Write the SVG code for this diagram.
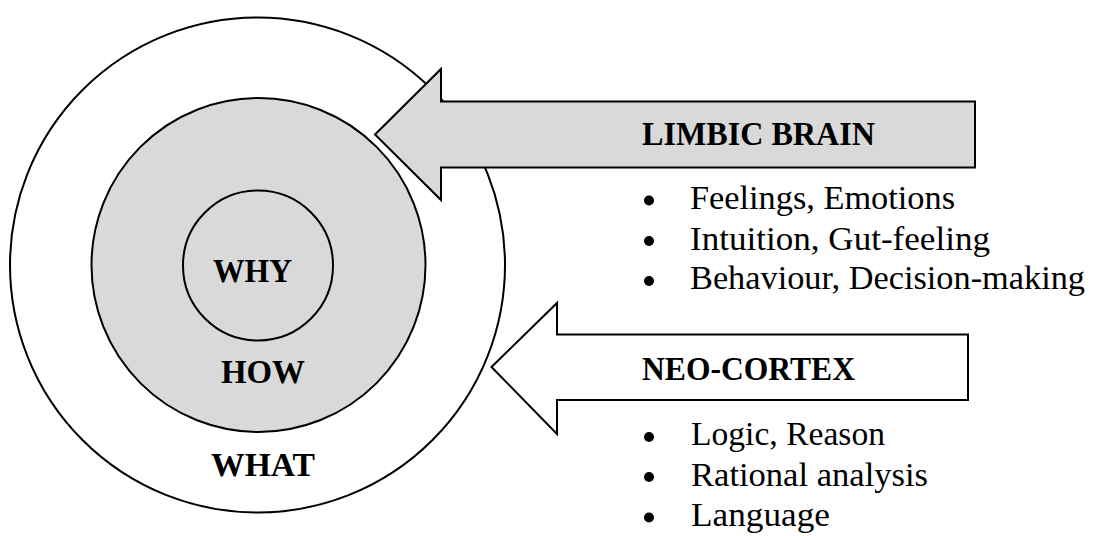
<svg xmlns="http://www.w3.org/2000/svg" width="1097" height="536" viewBox="0 0 1097 536">
  <style>
    .ring { stroke: #000; stroke-width: 2; }
    .white { fill: #ffffff; }
    .grey { fill: #d9d9d9; }
    .arrow { stroke: #000; stroke-width: 2; stroke-linejoin: miter; }
    .title { font-family: "Liberation Serif", "Times New Roman", serif; font-weight: bold; font-size: 34px; fill: #000; }
    .item { font-family: "Liberation Serif", "Times New Roman", serif; font-size: 33px; fill: #000; }
    .dot { fill: #000; }
  </style>
  <rect x="0" y="0" width="1097" height="536" fill="#ffffff"/>

  <!-- Golden circle: WHAT (outer), HOW (middle), WHY (core) -->
  <g id="what">
    <circle class="ring white" cx="257.5" cy="265" r="247.5"/>
    <text class="title" x="211" y="476" textLength="104" lengthAdjust="spacingAndGlyphs">WHAT</text>
  </g>
  <g id="how">
    <circle class="ring grey" cx="258.5" cy="265" r="167"/>
    <text class="title" x="221" y="383" textLength="84" lengthAdjust="spacingAndGlyphs">HOW</text>
  </g>
  <g id="why">
    <circle class="ring grey" cx="258" cy="265.5" r="75"/>
    <text class="title" x="213" y="282" textLength="79" lengthAdjust="spacingAndGlyphs">WHY</text>
  </g>

  <!-- Block arrows pointing into the circle -->
  <g id="connectors">
    <polygon id="arrow-limbic" class="arrow grey" points="375,134.5 441,69 441,101.5 975,101.5 975,167.5 441,167.5 441,200"/>
    <polygon id="arrow-neocortex" class="arrow white" points="491.5,367 557,303 557,334.5 968,334.5 968,400 557,400 557,434"/>
  </g>

  <g id="limbic">
    <text class="title" x="642" y="145" textLength="233" lengthAdjust="spacingAndGlyphs">LIMBIC BRAIN</text>
    <circle class="dot" cx="649" cy="200.5" r="5"/>
    <text class="item" x="690" y="209" textLength="265" lengthAdjust="spacingAndGlyphs">Feelings, Emotions</text>
    <circle class="dot" cx="649" cy="241" r="5"/>
    <text class="item" x="690" y="250" textLength="300" lengthAdjust="spacingAndGlyphs">Intuition, Gut-feeling</text>
    <circle class="dot" cx="649" cy="281" r="5"/>
    <text class="item" x="690" y="289" textLength="395" lengthAdjust="spacingAndGlyphs">Behaviour, Decision-making</text>
  </g>

  <g id="neocortex">
    <text class="title" x="642" y="380" textLength="213" lengthAdjust="spacingAndGlyphs">NEO-CORTEX</text>
    <circle class="dot" cx="649" cy="437" r="5"/>
    <text class="item" x="691" y="445" textLength="194" lengthAdjust="spacingAndGlyphs">Logic, Reason</text>
    <circle class="dot" cx="649" cy="477" r="5"/>
    <text class="item" x="691" y="485.5" textLength="237" lengthAdjust="spacingAndGlyphs">Rational analysis</text>
    <circle class="dot" cx="649" cy="517.5" r="5"/>
    <text class="item" x="691" y="526" textLength="139" lengthAdjust="spacingAndGlyphs">Language</text>
  </g>
</svg>
